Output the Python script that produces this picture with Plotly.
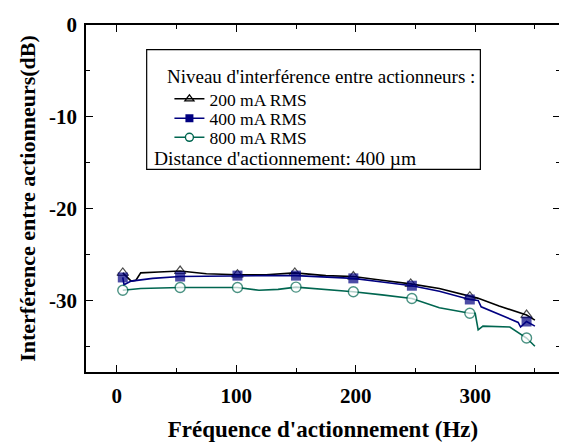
import plotly.graph_objects as go

# ---- data ----
freq_200 = [5, 12, 16, 20, 35, 53, 75, 101, 125, 149, 175, 198, 222, 246, 270, 295.5, 302, 320, 343, 350]
db_200 = [-27.0, -27.9, -27.8, -27.0, -26.9, -26.8, -27.1, -27.2, -27.2, -27.0, -27.3, -27.4, -27.8, -28.2, -28.7, -29.6, -29.75, -30.6, -31.6, -32.15]
mark_200 = [1, 0, 0, 0, 0, 1, 0, 1, 0, 1, 0, 1, 0, 1, 0, 1, 0, 0, 1, 0]

freq_400 = [5, 6, 12, 30, 53, 101, 125, 150, 198, 222, 247, 270, 295.5, 302.5, 305, 336, 338, 343, 350]
db_400 = [-27.5, -28.3, -27.9, -27.6, -27.4, -27.3, -27.3, -27.3, -27.6, -28.0, -28.4, -29.0, -29.9, -30.0, -30.7, -32.4, -32.9, -32.3, -32.8]
mark_400 = [1, 0, 0, 0, 1, 1, 0, 1, 1, 0, 1, 0, 1, 0, 0, 0, 0, 1, 0]

freq_800 = [5, 20, 53, 101, 119, 135, 150, 175, 198, 222, 247, 270, 291, 295.5, 300, 302.5, 306.5, 329, 343, 350]
db_800 = [-28.9, -28.7, -28.6, -28.6, -28.9, -28.8, -28.55, -28.8, -29.05, -29.4, -29.8, -30.8, -31.3, -31.4, -31.4, -33.2, -32.8, -32.9, -34.1, -35.0]
mark_800 = [1, 0, 1, 1, 0, 0, 1, 0, 1, 0, 1, 0, 0, 1, 0, 0, 0, 0, 1, 0]

series_names = ["200 mA RMS", "400 mA RMS", "800 mA RMS"]
legend_title = "Niveau d'interférence entre actionneurs :"
legend_note = "Distance d'actionnement: 400 µm"
x_ticks = [0, 100, 200, 300]
y_ticks = [0, -10, -20, -30]

FONT = "Liberation Serif, Times New Roman, serif"
MS = 10
BLACK, NAVY, GREEN = "black", "#000080", "#006650"

styles = [
    dict(color=BLACK, symbol="triangle-up-open", mcolor=BLACK, mline=dict(width=1.2, color=BLACK)),
    dict(color=NAVY, symbol="square", mcolor=NAVY, mline=dict(width=0, color=NAVY)),
    dict(color=GREEN, symbol="circle", mcolor="white", mline=dict(width=1.4, color=GREEN)),
]
data = [(freq_200, db_200, mark_200), (freq_400, db_400, mark_400), (freq_800, db_800, mark_800)]
legend_ids = ["legend", "legend2", "legend3"]
legend_rows_y = [0.787, 0.731, 0.676]

fig = go.Figure()
for name, st, (xs, ys, mk) in zip(series_names, styles, data):
    fig.add_trace(go.Scatter(
        x=xs, y=ys, name=name, mode="lines+markers", showlegend=False,
        line=dict(color=st["color"], width=1.6),
        marker=dict(symbol=st["symbol"], size=[MS if m else 0 for m in mk],
                    color=st["mcolor"], line=st["mline"]),
    ))
# legend entries (one legend per row, for exact spacing)
for name, st, lid in zip(series_names, styles, legend_ids):
    fig.add_trace(go.Scatter(
        x=[None], y=[None], name=name, mode="lines+markers", legend=lid,
        line=dict(color=st["color"], width=1.4),
        marker=dict(symbol=st["symbol"], size=8, color=st["mcolor"], line=st["mline"]),
    ))

axis_common = dict(
    showline=True, linecolor="black", linewidth=1.5, mirror="allticks",
    ticks="inside", ticklen=7, tickwidth=1.2, tickcolor="black",
    showgrid=False, zeroline=False,
    tickfont=dict(family=FONT, size=21, color="black", weight="bold"),
)

fig.update_xaxes(
    range=[-25.8, 371], tickvals=x_ticks, ticktext=[str(v) for v in x_ticks],
    minor=dict(tickvals=[50, 150, 250, 350], ticks="inside", ticklen=4, tickcolor="black", tickwidth=1.2),
    ticklabelstandoff=4,
    title=dict(text="Fréquence d'actionnement (Hz)", font=dict(family=FONT, size=23, color="black", weight="bold"), standoff=14),
    **axis_common,
)
fig.update_yaxes(
    range=[-37.8, 0], tickvals=y_ticks, ticktext=[str(v) for v in y_ticks],
    minor=dict(tickvals=[-5, -15, -25, -35], ticks="inside", ticklen=4, tickcolor="black", tickwidth=1.2),
    ticklabelstandoff=3,
    title=dict(text="Interférence entre actionneurs(dB)", font=dict(family=FONT, size=22, color="black", weight="bold"), standoff=7),
    **axis_common,
)

legend_common = dict(
    x=0.176, xanchor="left", yanchor="middle",
    bgcolor="rgba(0,0,0,0)", borderwidth=0,
    font=dict(family=FONT, size=17.5, color="black"),
)
layout_legends = {lid: dict(y=yy, **legend_common) for lid, yy in zip(legend_ids, legend_rows_y)}

fig.update_layout(
    width=559, height=435,
    margin=dict(l=78, r=5, t=12, b=70),
    paper_bgcolor="white", plot_bgcolor="white",
    font=dict(family=FONT, color="black"),
    shapes=[dict(type="rect", xref="paper", yref="paper", x0=0.128, x1=0.832, y0=0.584, y1=0.929,
                 line=dict(color="black", width=1.2), fillcolor="rgba(0,0,0,0)")],
    annotations=[
        dict(text=legend_title, xref="paper", yref="paper",
             x=0.166, y=0.853, xanchor="left", yanchor="middle", showarrow=False,
             font=dict(family=FONT, size=19, color="black")),
        dict(text=legend_note, xref="paper", yref="paper",
             x=0.139, y=0.614, xanchor="left", yanchor="middle", showarrow=False,
             font=dict(family=FONT, size=19.5, color="black")),
    ],
    **layout_legends,
)

fig.write_html("out.html")
